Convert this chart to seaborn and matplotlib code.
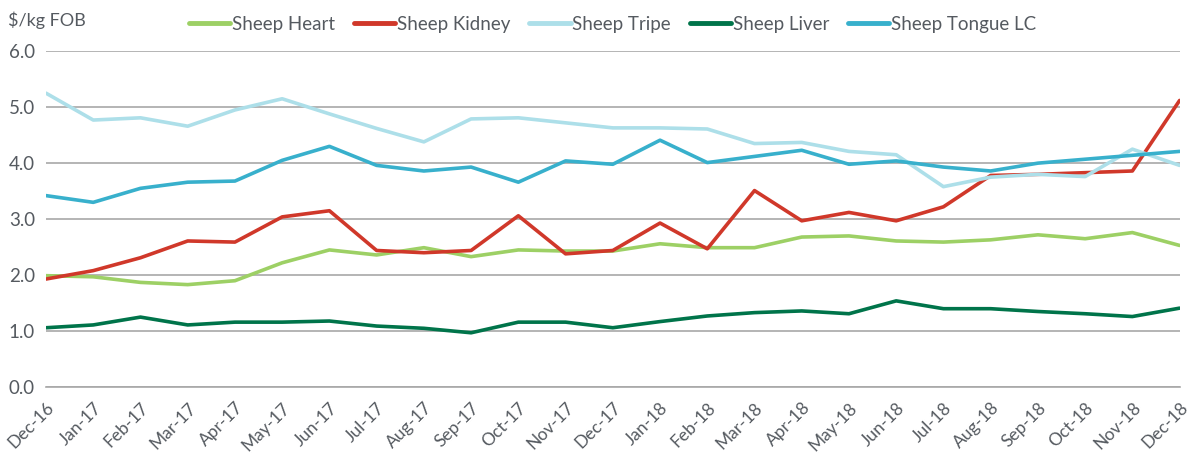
import matplotlib
matplotlib.use("Agg")
import matplotlib.pyplot as plt
import seaborn as sns
import pandas as pd
import numpy as np

months = ["Dec-16", "Jan-17", "Feb-17", "Mar-17", "Apr-17", "May-17", "Jun-17", "Jul-17",
          "Aug-17", "Sep-17", "Oct-17", "Nov-17", "Dec-17", "Jan-18", "Feb-18", "Mar-18",
          "Apr-18", "May-18", "Jun-18", "Jul-18", "Aug-18", "Sep-18", "Oct-18", "Nov-18", "Dec-18"]

heart = [1.99, 1.97, 1.87, 1.83, 1.90, 2.22, 2.45, 2.36, 2.49, 2.33, 2.45, 2.43, 2.43,
         2.56, 2.49, 2.49, 2.68, 2.70, 2.61, 2.59, 2.63, 2.72, 2.65, 2.76, 2.53]
kidney = [1.93, 2.08, 2.31, 2.61, 2.59, 3.04, 3.15, 2.44, 2.40, 2.44, 3.06, 2.38, 2.44,
          2.93, 2.47, 3.51, 2.97, 3.12, 2.97, 3.22, 3.78, 3.80, 3.83, 3.86, 5.12]
tripe = [5.25, 4.77, 4.81, 4.66, 4.95, 5.15, 4.88, 4.62, 4.38, 4.79, 4.81, 4.72, 4.63,
         4.63, 4.61, 4.35, 4.37, 4.21, 4.15, 3.58, 3.75, 3.80, 3.76, 4.25, 3.96]
liver = [1.06, 1.11, 1.25, 1.11, 1.16, 1.16, 1.18, 1.09, 1.05, 0.97, 1.16, 1.16, 1.06,
         1.17, 1.27, 1.33, 1.36, 1.31, 1.54, 1.40, 1.40, 1.35, 1.31, 1.26, 1.41]
tongue = [3.42, 3.30, 3.55, 3.66, 3.68, 4.05, 4.30, 3.96, 3.86, 3.93, 3.66, 4.04, 3.98,
          4.41, 4.01, 4.12, 4.23, 3.98, 4.04, 3.93, 3.86, 4.00, 4.07, 4.14, 4.21]

series_names = ["Sheep Heart", "Sheep Kidney", "Sheep Tripe", "Sheep Liver", "Sheep Tongue LC"]
series_vals = [heart, kidney, tripe, liver, tongue]
colors = ["#9dd065", "#d0382a", "#addfe9", "#00744a", "#38b0cc"]

rows = []
for name, vals in zip(series_names, series_vals):
    for i, v in enumerate(vals):
        rows.append({"idx": i, "value": v, "series": name})
df = pd.DataFrame(rows)

sns.set_theme(style="white")
plt.rcParams["font.family"] = ["Lato", "DejaVu Sans"]
text_color = "#555a60"

fig = plt.figure(figsize=(11.92, 4.57), dpi=100)
ax = fig.add_axes([0.0386, 0.153, 0.951, 0.735])

sns.lineplot(data=df, x="idx", y="value", hue="series", hue_order=series_names,
             palette=colors, linewidth=2.6, ax=ax, legend=True)

ax.set_xlim(0, len(months) - 1)
ax.set_ylim(0, 6)
ax.set_yticks(np.arange(0, 7, 1))
ax.set_yticklabels([f"{v:.1f}" for v in np.arange(0, 7, 1)], fontsize=13.5, color=text_color)
ax.set_xticks(range(len(months)))
ax.set_xticklabels(months, rotation=45, ha="right", rotation_mode="anchor",
                   fontsize=12.5, color=text_color)
ax.set_xlabel("")
ax.set_ylabel("")

ax.grid(axis="y", color="#a8a8a8", linewidth=1.2)
ax.set_axisbelow(True)
for s in ["left", "right", "top"]:
    ax.spines[s].set_visible(False)
ax.spines["bottom"].set_color("#a8a8a8")
ax.spines["bottom"].set_linewidth(1.2)
ax.tick_params(axis="x", direction="out", length=6, width=1.2, color="#a8a8a8", pad=3)
ax.tick_params(axis="y", length=0, pad=8)

fig.text(0.007, 0.955, "$/kg FOB", fontsize=13, color=text_color, va="center", ha="left")

leg = ax.legend(loc="center", bbox_to_anchor=(0.5, 1.08), ncol=5, frameon=False,
                fontsize=13.5, handlelength=2.2, handletextpad=0.1, columnspacing=1.0)
for t in leg.get_texts():
    t.set_color(text_color)
for line in leg.get_lines():
    line.set_linewidth(3.5)

fig.savefig("out.png", dpi=100)
